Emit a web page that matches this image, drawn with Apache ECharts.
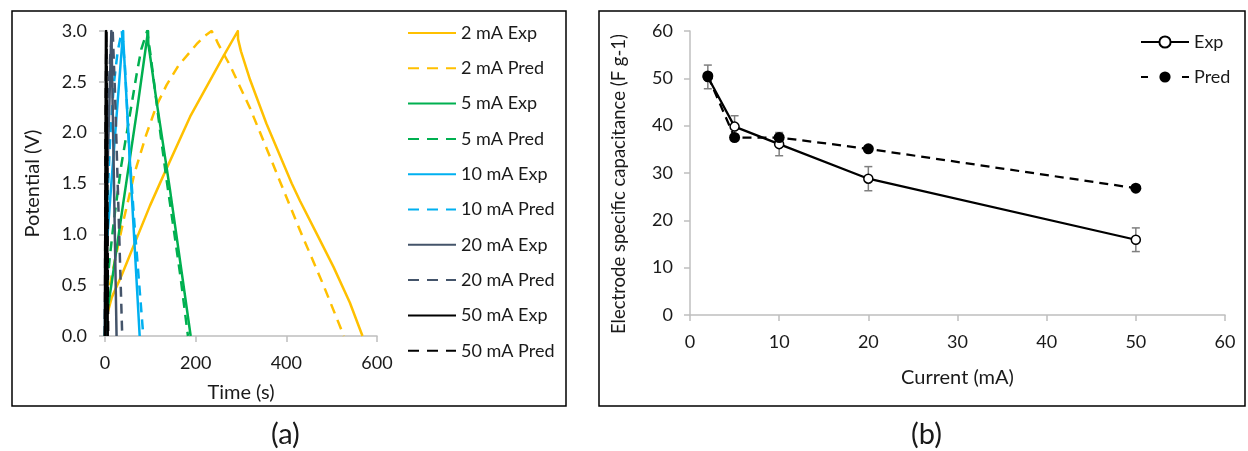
<!DOCTYPE html>
<html>
<head>
<meta charset="utf-8">
<script src="https://cdn.jsdelivr.net/npm/echarts@6/dist/echarts.min.js"></script>
<style>
  html, body { margin: 0; padding: 0; background: #fff; }
  #chart { width: 1248px; height: 451px; }
</style>
</head>
<body>
<div id="chart"></div>
<script>
// (a) galvanostatic charge/discharge, [time s, potential V]
var exp2 = [[0,0.05],[4,0.2],[15,0.38],[37,0.6],[99,1.28],[129,1.58],[188,2.16],[261,2.75],[293,3.0],
            [293.5,2.92],[300,2.8],[320,2.52],[356,2.09],[412,1.5],[430,1.33],[470,0.98],[504,0.68],[540,0.33],[568,0]];
var pred2 = [[0,0],[3,0.3],[15,0.6],[40,1.12],[65,1.6],[91,1.98],[114,2.27],[136,2.47],[162,2.66],[202,2.87],[220,2.95],[235,3.0],
             [242,2.95],[250,2.87],[276,2.66],[298,2.45],[320,2.24],[356,1.85],[386,1.52],[430,1.04],[480,0.52],[527,0]];
var exp5 = [[0,0],[3,0.18],[14,0.5],[40,1.3],[70,2.2],[95,3.0],
            [95.5,2.88],[114,2.3],[143,1.45],[170,0.6],[189,0]];
var pred5 = [[0,0],[3,0.4],[10,0.75],[20,1.15],[36,1.68],[47,1.97],[58,2.26],[70,2.58],[80,2.82],[93,3.0],
             [100,2.78],[110,2.43],[122,2.0],[136,1.53],[150,1.1],[166,0.6],[183,0]];
var exp10 = [[0,0],[1,0.72],[14,1.5],[40,3.0],[40.5,2.9],[57,1.55],[76.5,0]];
var pred10 = [[0,0],[1,0.7],[5,1.3],[12,2.0],[20,2.5],[28,2.8],[37,3.0],[44,2.65],[54,1.8],[65,1.1],[84.5,0]];
var exp20 = [[0,0],[0.5,0.8],[14,3.0],[14.5,2.9],[25.5,0]];
var pred20 = [[0,0],[1,0.9],[4,1.7],[8,2.4],[12,2.8],[17,3.0],[22,2.4],[30,1.2],[38,0]];
var exp50 = [[0,0],[0.3,0.8],[2.5,3.0],[3,2.85],[6,0]];
var pred50 = [[0,0],[0.5,1.0],[1.5,2.2],[3,3.0],[5,1.4],[7,0]];

// (b) specific capacitance vs current
var currents = [2, 5, 10, 20, 50];
var capExp = [50.3, 39.8, 36.1, 28.8, 15.9];
var capPred = [50.5, 37.5, 37.5, 35.1, 26.8];
var capErr = [2.5, 2.3, 2.45, 2.55, 2.5];

var FONT = 'Lato';
var TXT = '#1a1a1a';
var AX = '#bfbfbf';

var curveDefs = [
  ['2 mA Exp', exp2, '#FFC000', 'solid'],
  ['2 mA Pred', pred2, '#FFC000', [10, 7]],
  ['5 mA Exp', exp5, '#00B050', 'solid'],
  ['5 mA Pred', pred5, '#00B050', [10, 7]],
  ['10 mA Exp', exp10, '#00B0F0', 'solid'],
  ['10 mA Pred', pred10, '#00B0F0', [10, 7]],
  ['20 mA Exp', exp20, '#44546A', 'solid'],
  ['20 mA Pred', pred20, '#44546A', [10, 7]],
  ['50 mA Exp', exp50, '#000000', 'solid'],
  ['50 mA Pred', pred50, '#000000', [10, 7]]
];

var series = curveDefs.map(function (c) {
  return {
    name: c[0], type: 'line', xAxisIndex: 0, yAxisIndex: 0,
    data: c[1], symbol: 'none', smooth: false,
    lineStyle: { color: c[2], width: 2.5, type: c[3], join: 'round' },
    itemStyle: { color: c[2], opacity: 0 }
  };
});

var errData = currents.map(function (x, i) { return [x, capExp[i] - capErr[i], capExp[i] + capErr[i]]; });

series.push({
  type: 'custom', xAxisIndex: 2, yAxisIndex: 2, z: 1,
  data: errData,
  renderItem: function (params, api) {
    var lo = api.coord([api.value(0), api.value(1)]);
    var hi = api.coord([api.value(0), api.value(2)]);
    var w = 4;
    var st = { stroke: '#7f7f7f', lineWidth: 1.5 };
    return { type: 'group', children: [
      { type: 'line', shape: { x1: lo[0], y1: lo[1], x2: hi[0], y2: hi[1] }, style: st },
      { type: 'line', shape: { x1: lo[0] - w, y1: lo[1], x2: lo[0] + w, y2: lo[1] }, style: st },
      { type: 'line', shape: { x1: hi[0] - w, y1: hi[1], x2: hi[0] + w, y2: hi[1] }, style: st }
    ]};
  }
});
series.push({
  name: 'Exp', type: 'line', xAxisIndex: 2, yAxisIndex: 2, z: 3,
  data: currents.map(function (x, i) { return [x, capExp[i]]; }),
  symbol: 'circle', symbolSize: 9,
  lineStyle: { color: '#000', width: 2.25 },
  itemStyle: { color: '#fff', borderColor: '#000', borderWidth: 1.5 }
});
series.push({
  name: 'Pred', type: 'line', xAxisIndex: 2, yAxisIndex: 2, z: 4,
  data: currents.map(function (x, i) { return [x, capPred[i]]; }),
  symbol: 'circle', symbolSize: 11,
  lineStyle: { color: '#000', width: 2.25, type: [9, 6] },
  itemStyle: { color: '#000', borderColor: '#000', borderWidth: 0 }
});

function mainAxis(o) {
  return Object.assign({
    type: 'value',
    axisLine: { show: true, lineStyle: { color: AX, width: 1.5 } },
    axisTick: { show: true, length: 6, lineStyle: { color: AX, width: 1.5 } },
    splitLine: { show: false },
    axisLabel: { color: TXT, fontFamily: FONT, fontSize: 18, margin: 18 },
    nameTextStyle: { color: TXT, fontFamily: FONT, fontSize: 20 }
  }, o);
}
function innerAxis(o) {
  return Object.assign({
    type: 'value',
    axisLine: { show: false },
    axisTick: { show: true, inside: true, length: 6, lineStyle: { color: AX, width: 1.5 } },
    splitLine: { show: false },
    axisLabel: { show: false }
  }, o);
}

var legendA = curveDefs.map(function (c) {
  var item = { name: c[0] };
  if (c[3] !== 'solid') item.lineStyle = { type: [11, 8] };
  return item;
});

var chart = echarts.init(document.getElementById('chart'), null, { renderer: 'canvas' });
chart.setOption({
  backgroundColor: '#fff',
  animation: false,
  grid: [
    { left: 105, top: 31, width: 272, height: 305 },
    { left: 690, top: 31, width: 535, height: 284 }
  ],
  xAxis: [
    mainAxis({ gridIndex: 0, min: 0, max: 600, interval: 200, name: 'Time (s)', nameLocation: 'middle', nameGap: 47 }),
    innerAxis({ gridIndex: 0, min: 0, max: 600, interval: 200 }),
    mainAxis({ gridIndex: 1, min: 0, max: 60, interval: 10, name: 'Current (mA)', nameLocation: 'middle', nameGap: 53 }),
    innerAxis({ gridIndex: 1, min: 0, max: 60, interval: 10 })
  ],
  yAxis: [
    mainAxis({ gridIndex: 0, min: 0, max: 3, interval: 0.5, name: 'Potential (V)', nameLocation: 'middle', nameGap: 62,
      axisLabel: { color: TXT, fontFamily: FONT, fontSize: 18, margin: 18, formatter: function (v) { return v.toFixed(1); } } }),
    innerAxis({ gridIndex: 0, min: 0, max: 3, interval: 0.5 }),
    mainAxis({ gridIndex: 1, min: 0, max: 60, interval: 10,
      axisLabel: { color: TXT, fontFamily: FONT, fontSize: 18, margin: 17 } }),
    innerAxis({ gridIndex: 1, min: 0, max: 60, interval: 10 })
  ],
  legend: [
    {
      data: legendA,
      orient: 'vertical', left: 407, top: 24, itemWidth: 48, itemHeight: 14, itemGap: 17.3,
      itemStyle: { opacity: 0 },
      textStyle: { color: TXT, fontFamily: FONT, fontSize: 18, lineHeight: 18 }, padding: 0, selectedMode: false
    },
    {
      data: ['Exp', { name: 'Pred', lineStyle: { type: [7, 34] } }],
      orient: 'vertical', left: 1140, top: 33, itemWidth: 48, itemHeight: 14, itemGap: 17,
      textStyle: { color: TXT, fontFamily: FONT, fontSize: 18, lineHeight: 18 }, padding: 0, selectedMode: false
    }
  ],
  graphic: [
    { type: 'rect', shape: { x: 12, y: 11, width: 554, height: 395 }, style: { fill: 'none', stroke: '#000', lineWidth: 1.5 }, silent: true },
    { type: 'rect', shape: { x: 599, y: 11, width: 646, height: 395 }, style: { fill: 'none', stroke: '#000', lineWidth: 1.5 }, silent: true },
    { type: 'text', x: 619, y: 184, rotation: Math.PI / 2,
      style: { text: 'Electrode specific capacitance (F g-1)', fontFamily: FONT, fontSize: 18.5, fill: TXT, align: 'center', verticalAlign: 'middle' } },
    { type: 'text', left: 271, top: 420, style: { text: '(a)', fontFamily: FONT, fontSize: 29, fill: TXT } },
    { type: 'text', left: 911, top: 420, style: { text: '(b)', fontFamily: FONT, fontSize: 29, fill: TXT } }
  ],
  series: series
});
</script>
</body>
</html>
